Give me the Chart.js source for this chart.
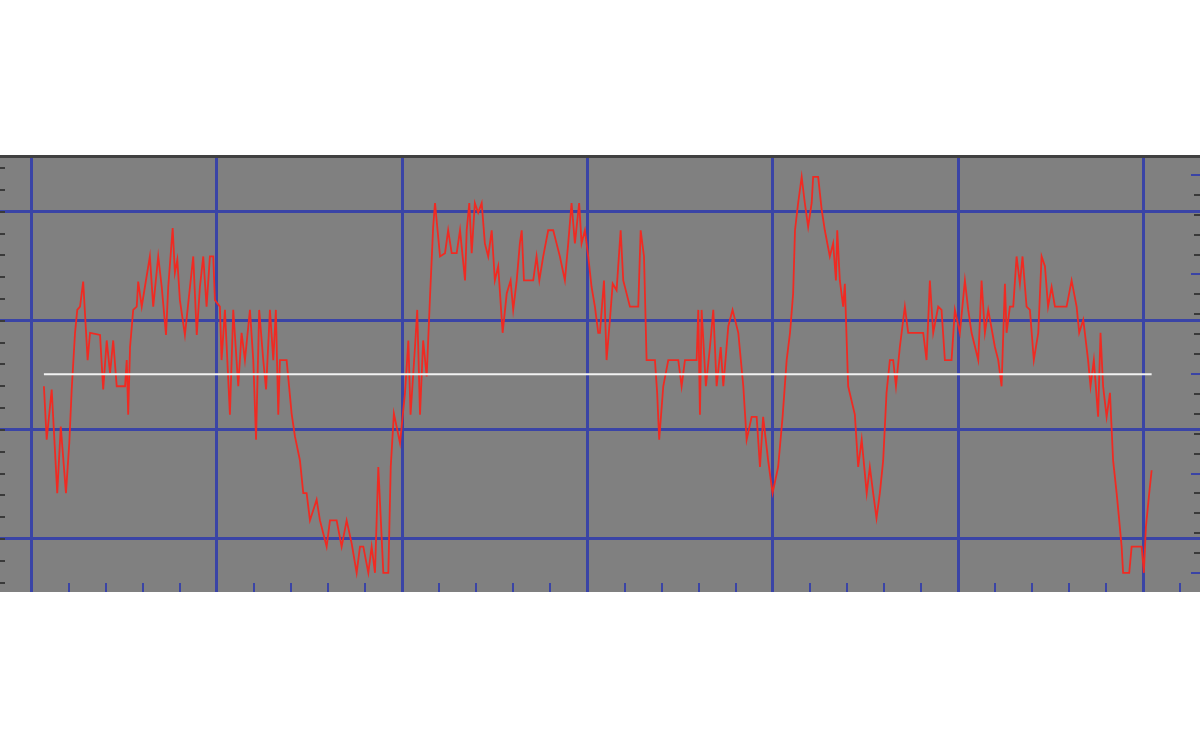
<!DOCTYPE html>
<html>
<head>
<meta charset="utf-8">
<script src="https://cdn.jsdelivr.net/npm/chart.js@4.4.1/dist/chart.umd.min.js"></script>
<style>
  html, body { margin: 0; padding: 0; background: #fff; }
  #wrap { width: 1200px; height: 750px; }
</style>
</head>
<body>
<div id="wrap"><canvas id="scope"></canvas></div>
<script>
// trace: sample index / level
const sampleIdx = [
  6.6, 8.1, 10.8, 13.8, 15.7, 18.5, 20.3, 21.6, 23.4, 24.6,
  26.1, 27.8, 30.2, 31.5, 36.9, 38.6, 40.5, 42.3, 44.0, 45.9,
  50.4, 51.3, 52.1, 53.1, 54.8, 56.7, 57.5, 59.4, 61.1, 63.8,
  65.6, 68.3, 70.2, 72.5, 73.7, 76.1, 77.3, 78.6, 80.0, 82.7,
  84.5, 87.2, 89.1, 90.8, 92.6, 94.4, 96.2, 98.0, 98.9, 101.6,
  102.5, 104.3, 107.0, 108.8, 111.5, 113.3, 115.1, 117.8, 119.6, 121.1,
  122.8, 125.0, 126.5, 128.6, 130.4, 131.8, 133.1, 134.0, 137.6, 140.3,
  142.1, 144.8, 146.6, 148.4, 150.2, 153.8, 155.6, 159.2, 161.0, 164.6,
  167.3, 170.0, 172.7, 175.4, 177.2, 179.0, 181.7, 183.5, 185.3, 187.1,
  189.8, 192.5, 193.8, 195.5, 198.8, 201.5, 203.3, 204.5, 206.9, 208.1,
  209.6, 211.3, 213.2, 215.0, 216.7, 217.7, 220.4, 223.1, 224.8, 226.7,
  229.4, 231.2, 233.9, 234.8, 236.2, 237.5, 239.2, 241.0, 242.9, 244.6,
  246.4, 248.3, 250.0, 251.8, 254.2, 256.4, 258.5, 259.9, 261.8, 263.5,
  264.5, 265.7, 268.0, 270.7, 272.5, 274.0, 276.1, 278.8, 281.5, 283.3,
  285.1, 287.8, 289.6, 291.4, 293.2, 295.5, 296.8, 298.6, 300.4, 302.2,
  304.0, 305.8, 306.7, 308.9, 310.3, 312.1, 313.6, 315.7, 317.9, 319.3,
  322.9, 327.4, 328.7, 330.5, 331.9, 336.4, 337.6, 338.7, 340.9, 343.6,
  349.0, 350.8, 352.6, 358.9, 359.8, 360.7, 361.6, 363.9, 366.1, 367.9,
  369.7, 371.9, 373.3, 376.0, 378.3, 381.4, 384.1, 385.9, 388.6, 391.3,
  393.1, 394.8, 397.5, 399.9, 402.9, 405.3, 407.5, 409.3, 411.0, 412.0,
  413.7, 415.6, 417.3, 419.1, 421.0, 421.8, 424.5, 426.4, 428.1, 430.8,
  432.6, 434.1, 434.8, 436.2, 438.0, 438.9, 440.7, 444.3, 446.1, 448.0,
  450.7, 452.4, 454.2, 456.0, 457.8, 459.6, 461.4, 463.2, 465.0, 466.5,
  468.6, 471.3, 473.1, 481.2, 483.0, 484.8, 486.6, 489.3, 491.1, 492.9,
  496.5, 498.3, 501.0, 503.7, 505.5, 507.3, 510.9, 512.7, 514.5, 516.3,
  519.9, 521.7, 523.5, 525.3, 526.2, 528.0, 529.8, 531.6, 533.4, 534.8,
  537.0, 538.8, 540.9, 543.3, 545.1, 546.9, 548.6, 550.5, 552.3, 558.6,
  561.3, 564.0, 565.4, 567.6, 570.2, 571.5, 573.3, 575.6, 576.9, 578.3,
  580.2, 582.0, 583.7, 585.6, 587.0, 588.3, 589.1, 592.4, 593.7, 599.1,
  600.3, 601.4, 603.2, 604.5
];
const signal = [
  24.0, 19.1, 23.7, 14.2, 20.3, 14.2, 18.8, 23.7, 28.9, 31.0,
  31.3, 33.6, 26.4, 28.9, 28.7, 23.7, 28.2, 25.2, 28.2, 24.0,
  24.0, 26.4, 21.4, 27.6, 31.0, 31.3, 33.6, 31.3, 33.1, 35.9,
  31.3, 35.9, 33.1, 28.7, 33.1, 38.5, 34.4, 35.6, 31.9, 28.7,
  31.6, 35.9, 28.7, 33.1, 35.9, 31.3, 35.9, 35.9, 31.9, 31.3,
  26.4, 31.0, 21.4, 31.0, 24.0, 28.9, 26.4, 31.0, 26.4, 19.1,
  31.0, 26.4, 23.7, 31.0, 26.4, 31.0, 21.4, 26.4, 26.4, 21.5,
  19.4, 17.2, 14.2, 14.2, 11.7, 13.6, 11.7, 9.3, 11.7, 11.7,
  9.3, 11.7, 9.6, 6.9, 9.3, 9.3, 6.9, 9.3, 6.9, 16.6,
  6.9, 6.9, 16.6, 21.5, 18.8, 23.4, 28.2, 21.4, 27.6, 31.0,
  21.4, 28.2, 24.9, 32.2, 38.6, 40.8, 35.9, 36.2, 38.3, 36.2,
  36.2, 38.3, 33.7, 38.3, 40.8, 36.2, 40.8, 39.9, 40.8, 37.1,
  35.9, 38.3, 33.7, 35.0, 28.9, 32.5, 33.7, 31.0, 33.7, 37.1,
  38.3, 33.7, 33.7, 33.7, 35.9, 33.7, 35.9, 38.3, 38.3, 37.1,
  35.9, 33.7, 37.1, 40.8, 37.1, 40.8, 37.1, 38.3, 35.9, 33.1,
  31.3, 28.9, 28.9, 33.7, 26.4, 30.1, 33.4, 32.8, 38.3, 33.7,
  31.3, 31.3, 38.3, 35.9, 26.4, 26.4, 23.4, 19.1, 24.0, 26.4,
  26.4, 24.0, 26.4, 26.4, 31.0, 21.4, 31.0, 24.0, 27.6, 31.0,
  24.0, 27.6, 24.0, 29.5, 31.0, 28.9, 24.0, 19.1, 21.2, 21.2,
  16.6, 21.2, 17.2, 14.2, 16.6, 21.2, 26.4, 28.9, 32.5, 38.3,
  40.8, 43.2, 40.8, 38.6, 40.8, 43.2, 43.2, 40.2, 38.3, 35.9,
  37.1, 33.7, 38.3, 33.7, 31.3, 33.4, 24.0, 21.4, 16.6, 19.1,
  14.2, 16.6, 14.2, 11.9, 14.2, 17.2, 23.4, 26.4, 26.4, 24.0,
  27.6, 31.3, 28.9, 28.9, 26.4, 33.7, 28.9, 31.3, 31.0, 26.4,
  26.4, 31.0, 28.9, 33.7, 31.0, 28.9, 26.4, 33.7, 28.9, 31.0,
  27.6, 26.4, 24.0, 33.4, 28.9, 31.3, 31.3, 35.9, 33.4, 35.9,
  31.3, 31.0, 26.4, 28.9, 35.9, 35.0, 31.3, 33.1, 31.3, 31.3,
  33.7, 31.3, 28.9, 30.1, 26.4, 24.0, 26.4, 21.2, 28.9, 24.0,
  21.2, 23.4, 17.2, 14.2, 11.7, 9.3, 6.9, 6.9, 9.3, 9.3,
  6.9, 11.1, 14.2, 16.3
];
const meanLevel = 25.1;

// grid / tick levels
const xGrid = [0, 100, 200, 300, 400, 500, 600];
const yGrid = [10, 20, 30, 40];
const rightMajor = [-2, -1, 0, 1, 2];

const trace = sampleIdx.map((x, i) => ({ x: x, y: signal[i] }));
const meanLine = [
  { x: sampleIdx[0], y: meanLevel },
  { x: sampleIdx[sampleIdx.length - 1], y: meanLevel }
];

const GRID_BLUE = '#3a44a6';

const scopeFrame = {
  id: 'scopeFrame',
  beforeDraw(chart) {
    const { ctx, chartArea: a } = chart;
    ctx.save();
    ctx.fillStyle = '#808080';
    ctx.fillRect(a.left, a.top, a.right - a.left, a.bottom - a.top);
    ctx.restore();
  },
  beforeDatasetsDraw(chart) {
    const { ctx, chartArea: a, scales } = chart;
    ctx.save();
    ctx.lineWidth = 2;

    // left minor ticks
    ctx.strokeStyle = '#3a3a3a';
    for (let v = 6; v <= 44; v += 2) {
      const y = Math.round(scales.y.getPixelForValue(v));
      ctx.beginPath(); ctx.moveTo(a.left, y); ctx.lineTo(a.left + 5, y); ctx.stroke();
    }

    // right ticks (second scale)
    for (let k = -10; k <= 10; k++) {
      const y = Math.round(scales.y2.getPixelForValue(k / 5));
      if (y < a.top + 4 || y > a.bottom - 2) continue;
      const major = k % 5 === 0;
      ctx.strokeStyle = major ? GRID_BLUE : '#3a3a3a';
      ctx.beginPath();
      ctx.moveTo(a.right - (major ? 9 : 6), y);
      ctx.lineTo(a.right, y);
      ctx.stroke();
    }

    // bottom minor ticks
    ctx.strokeStyle = GRID_BLUE;
    for (let v = 20; v <= 620; v += 20) {
      if (v % 100 === 0) continue;
      const x = Math.round(scales.x.getPixelForValue(v));
      ctx.beginPath(); ctx.moveTo(x, a.bottom); ctx.lineTo(x, a.bottom - 9); ctx.stroke();
    }

    // dark top edge
    ctx.strokeStyle = '#404040';
    ctx.lineWidth = 3;
    ctx.beginPath(); ctx.moveTo(a.left, a.top + 1.5); ctx.lineTo(a.right, a.top + 1.5); ctx.stroke();
    ctx.restore();
  }
};

new Chart(document.getElementById('scope'), {
  type: 'line',
  data: {
    datasets: [{
      data: meanLine,
      borderColor: '#f2f2f2',
      borderWidth: 2,
      pointRadius: 0,
      order: 0
    }, {
      data: trace,
      borderColor: '#f02a22',
      borderWidth: 1.8,
      pointRadius: 0,
      tension: 0,
      order: 1
    }]
  },
  options: {
    responsive: true,
    maintainAspectRatio: false,
    animation: false,
    layout: { padding: { top: 155, bottom: 158, left: 0, right: 0 } },
    plugins: { legend: { display: false }, tooltip: { enabled: false } },
    scales: {
      x: {
        type: 'linear',
        min: -17.1,
        max: 630.6,
        afterBuildTicks: (axis) => { axis.ticks = xGrid.map(v => ({ value: v })); },
        ticks: { display: false },
        border: { display: false },
        grid: { color: GRID_BLUE, lineWidth: 3, drawTicks: false }
      },
      y: {
        type: 'linear',
        min: 5.14,
        max: 45.2,
        afterBuildTicks: (axis) => { axis.ticks = yGrid.map(v => ({ value: v })); },
        ticks: { display: false },
        border: { display: false },
        grid: { color: GRID_BLUE, lineWidth: 3, drawTicks: false }
      },
      y2: {
        type: 'linear',
        position: 'right',
        display: false,
        min: -2.19,
        max: 2.2,
        afterBuildTicks: (axis) => { axis.ticks = rightMajor.map(v => ({ value: v })); }
      }
    }
  },
  plugins: [scopeFrame]
});
</script>
</body>
</html>
